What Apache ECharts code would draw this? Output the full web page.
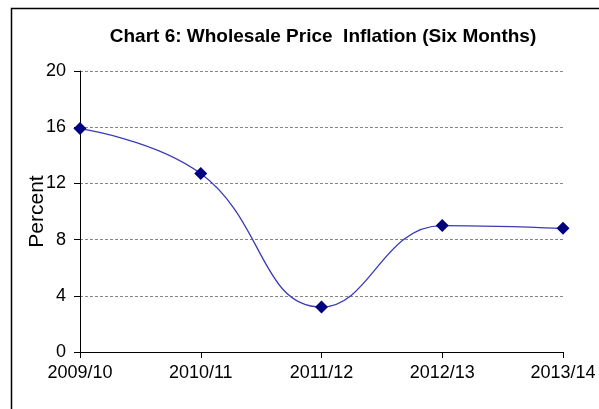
<!DOCTYPE html>
<html>
<head>
<meta charset="utf-8">
<script src="https://cdn.jsdelivr.net/npm/echarts@6/dist/echarts.min.js"></script>
<style>
  html, body { margin: 0; padding: 0; background: #fff; }
  #main { width: 599px; height: 409px; }
</style>
</head>
<body>
<div id="main"></div>
<script>
var years = ['2009/10', '2010/11', '2011/12', '2012/13', '2013/14'];
var inflation = [15.9, 12.7, 3.2, 9.0, 8.8];
var yTicks = [0, 4, 8, 12, 16, 20];

var chart = echarts.init(document.getElementById('main'));

var option = {
    backgroundColor: '#ffffff',
    animation: false,
    title: {
        text: 'Chart 6: Wholesale Price  Inflation (Six Months)',
        left: 318,
        top: 22,
        textAlign: 'center',
        textStyle: {
            fontFamily: 'Liberation Sans, Arial, sans-serif',
            fontWeight: 'bold',
            fontSize: 19,
            color: '#000'
        }
    },
    graphic: [{
        type: 'rect',
        shape: { x: 11.5, y: 8.5, width: 700, height: 500 },
        style: { fill: 'none', stroke: '#000', lineWidth: 1.5 },
        z: -1
    }],
    grid: {
        left: 80,
        right: 36,
        top: 71,
        height: 281
    },
    xAxis: {
        type: 'category',
        data: years,
        boundaryGap: false,
        axisLine: { lineStyle: { color: '#000', width: 1 } },
        axisTick: { show: true, length: 6, alignWithLabel: true, lineStyle: { color: '#000' } },
        axisLabel: {
            color: '#000',
            fontFamily: 'Liberation Sans, Arial, sans-serif',
            fontSize: 18,
            margin: 12
        },
        splitLine: { show: false }
    },
    yAxis: {
        type: 'value',
        min: yTicks[0],
        max: yTicks[yTicks.length - 1],
        interval: 4,
        name: 'Percent',
        nameLocation: 'middle',
        nameGap: 32,
        nameMoveOverlap: false,
        nameTextStyle: {
            color: '#000',
            fontFamily: 'Liberation Sans, Arial, sans-serif',
            fontSize: 21
        },
        axisLine: { show: true, lineStyle: { color: '#000', width: 1 } },
        axisTick: { show: true, length: 6, lineStyle: { color: '#000' } },
        axisLabel: {
            color: '#000',
            fontFamily: 'Liberation Sans, Arial, sans-serif',
            fontSize: 18,
            margin: 14
        },
        splitLine: {
            show: true,
            lineStyle: { color: '#888', type: [3, 2], width: 1 }
        }
    },
    series: [{
        type: 'line',
        data: inflation,
        smooth: 0.45,
        symbol: 'diamond',
        symbolSize: 13,
        lineStyle: { color: '#3a3ab8', width: 1.3 },
        itemStyle: { color: '#000080' }
    }]
};

chart.setOption(option);
</script>
</body>
</html>
